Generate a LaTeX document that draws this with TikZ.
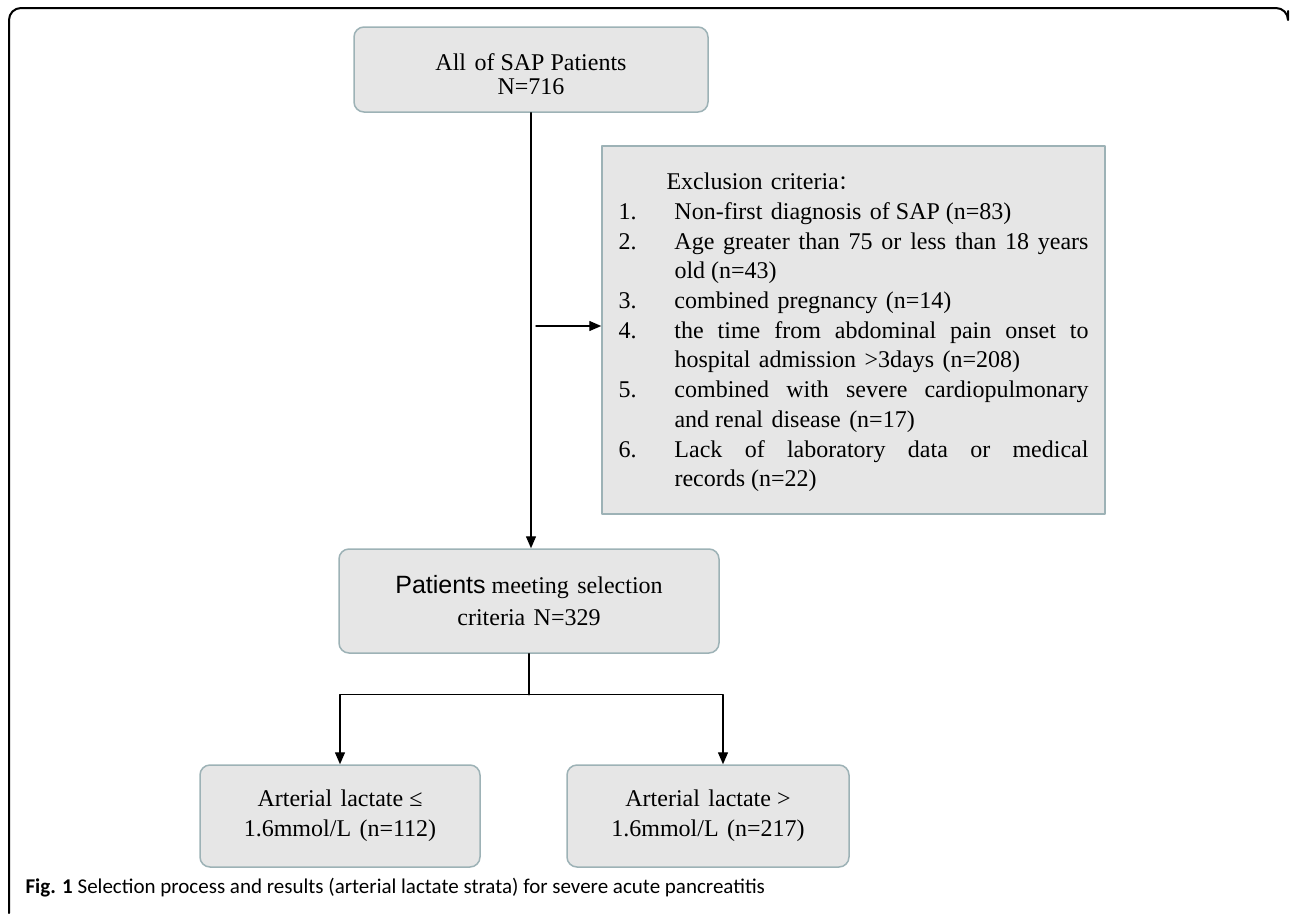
\documentclass[tikz,border=0pt]{standalone}
\usepackage{fontspec}
\setmainfont{Liberation Serif}
\setsansfont{Liberation Sans}
\newfontfamily\cjkfont{Noto Sans CJK SC}
\newfontfamily\capfont{Carlito}
\usetikzlibrary{arrows.meta}
\definecolor{BoxFill}{HTML}{E6E6E6}
\definecolor{BoxLine}{HTML}{9DB2B6}
\newcommand\wsp{\hspace{0.35em}}
\newcommand\critem[2]{\hangindent=56pt\hangafter=1\noindent\makebox[56pt][l]{#1}#2\par}

\begin{document}
\begin{tikzpicture}[x=1pt,y=-1pt,line cap=round,line join=round,
  box/.style={draw=BoxLine,fill=BoxFill,line width=1.5pt,rounded corners=10pt,align=center,inner sep=0pt,font=\fontsize{24}{30}\selectfont},
  arr/.style={line width=1.4pt,-{Triangle[length=12pt,width=10pt]}}]
  \useasboundingbox (0,0) rectangle (1290,913);
  \draw[line width=2pt,rounded corners=12pt] (9,913) -- (9,8) -- (1288,8) -- (1288,11);
  \node[box,minimum width=354,minimum height=85,text height=49pt,text depth=0pt,font=\fontsize{24}{23.5}\selectfont] (all) at (531,69.5) {All\wsp of SAP Patients\\N=716};
  \node[draw=BoxLine,fill=BoxFill,line width=1.5pt,minimum width=503,minimum height=368,inner sep=0pt] (excl) at (853.5,330) {\parbox{470pt}{\fontsize{24}{29.7}\selectfont\hyphenpenalty=10000
    \vspace*{5pt}\hspace*{48pt}Exclusion\wsp criteria{\cjkfont\fontsize{20}{20}\selectfont ：}\par
    \critem{1.}{Non-first\wsp diagnosis\wsp of SAP (n=83)}
    \critem{2.}{Age greater than 75 or less than 18 years\linebreak old (n=43)}
    \critem{3.}{combined\wsp pregnancy\wsp (n=14)}
    \critem{4.}{the time from abdominal pain onset to\linebreak hospital\wsp admission\wsp >3days\wsp (n=208)}
    \critem{5.}{combined with severe cardiopulmonary\linebreak and renal\wsp disease\wsp (n=17)}
    \critem{6.}{Lack of laboratory data or medical\linebreak records (n=22)}}};
  \node[box,minimum width=380,minimum height=104,font=\fontsize{24}{32}\selectfont] (sel) at (529,601) {{\sffamily\fontsize{25}{32}\selectfont Patients} meeting\wsp selection\\criteria\wsp N=329};
  \node[box,minimum width=280,minimum height=102] (low) at (340,816) {Arterial\wsp lactate ≤\\1.6mmol/L\wsp (n=112)};
  \node[box,minimum width=282,minimum height=102] (high) at (708,816) {Arterial\wsp lactate >\\1.6mmol/L\wsp (n=217)};
  \node[anchor=west,font=\capfont\fontsize{21}{24}\selectfont] (cap) at (22,888) {\textbf{Fig. 1} Selection process and results (arterial lactate strata) for severe acute pancreatitis};
  % connectors
  \draw[arr] (all.south) -- (all.south |- sel.north);
  \coordinate (tap) at (536,326);
  \draw[arr] (tap) -- (tap -| excl.west);
  \draw[line width=1.4pt] (sel.south) -- ++(0,41) coordinate (split);
  \draw[arr] (split) -| (low.north);
  \draw[arr] (split) -| ([xshift=15pt]high.north);
\end{tikzpicture}
\end{document}
